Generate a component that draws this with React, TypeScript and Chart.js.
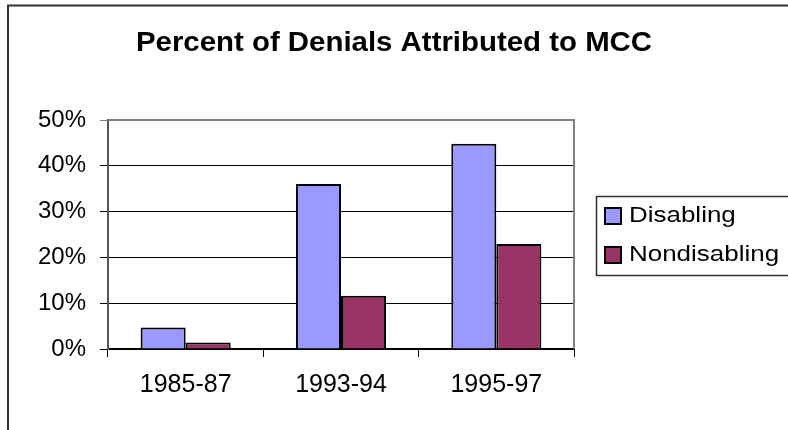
import React, { useEffect, useRef } from "react";
import { Chart, registerables } from "chart.js";

Chart.register(...registerables);

// Chart data
const title = "Percent of Denials Attributed to MCC";
const categories = ["1985-87", "1993-94", "1995-97"];
const seriesNames = ["Disabling", "Nondisabling"];
const disabling = [4.7, 36, 44.8];
const nondisabling = [1.4, 11.6, 22.9];
const yTicksMax = 50;
const yTickStep = 10;

const FONT = '"Liberation Sans", Arial, Helvetica, sans-serif';
const COLORS = ["#9999FF", "#993366"];

// Frame, title and legend drawn around the plot
const decorations = {
  id: "decorations",
  afterDraw(chart: any) {
    const ctx = chart.ctx as CanvasRenderingContext2D;
    const area = chart.chartArea;
    ctx.save();

    // outer frame (left and top edges visible)
    ctx.strokeStyle = "#333333";
    ctx.lineWidth = 2;
    ctx.beginPath();
    ctx.moveTo(8, 440);
    ctx.lineTo(8, 5.5);
    ctx.lineTo(800, 5.5);
    ctx.stroke();

    // plot-area top and right border
    ctx.strokeStyle = "#808080";
    ctx.lineWidth = 2;
    ctx.beginPath();
    ctx.moveTo(area.left, area.top);
    ctx.lineTo(area.right, area.top);
    ctx.lineTo(area.right, area.bottom);
    ctx.stroke();

    // title
    ctx.fillStyle = "#000";
    ctx.font = `bold 28px ${FONT}`;
    ctx.textAlign = "center";
    ctx.textBaseline = "alphabetic";
    ctx.save();
    ctx.translate(394, 51);
    ctx.scale(1.05, 1);
    ctx.fillText(title, 0, 0);
    ctx.restore();

    // legend box
    const lx = 596.5;
    const ly = 196.5;
    ctx.strokeStyle = "#333333";
    ctx.lineWidth = 1.5;
    ctx.strokeRect(lx, ly, 220, 79);

    ctx.textAlign = "left";
    ctx.font = `22px ${FONT}`;
    seriesNames.forEach((name, i) => {
      const baseline = 222 + i * 39;
      const sx = 605;
      const sy = baseline - 14;
      ctx.fillStyle = COLORS[i];
      ctx.fillRect(sx, sy, 16, 16);
      ctx.strokeStyle = "#000";
      ctx.lineWidth = 2;
      ctx.strokeRect(sx, sy, 16, 16);
      ctx.fillStyle = "#000";
      ctx.save();
      ctx.translate(629, baseline);
      ctx.scale(1.18, 1);
      ctx.fillText(name, 0, 0);
      ctx.restore();
    });

    ctx.restore();
  },
};

export default function App() {
  const ref = useRef<HTMLCanvasElement | null>(null);

  useEffect(() => {
    if (!ref.current) return;
    const chart = new Chart(ref.current, {
      type: "bar",
      data: {
        labels: categories,
        datasets: [
          {
            label: seriesNames[0],
            data: disabling,
            backgroundColor: COLORS[0],
            borderColor: "#000",
            borderWidth: 2,
          },
          {
            label: seriesNames[1],
            data: nondisabling,
            backgroundColor: COLORS[1],
            borderColor: "#000",
            borderWidth: 2,
          },
        ],
      },
      options: {
        responsive: false,
        animation: false,
        devicePixelRatio: 1,
        layout: { padding: { top: 120, right: 214, left: 0, bottom: 0 } },
        datasets: {
          bar: { categoryPercentage: 0.58, barPercentage: 1 },
        },
        plugins: {
          legend: { display: false },
          title: { display: false },
          tooltip: { enabled: false },
        },
        scales: {
          x: {
            afterFit(scale: any) {
              scale.height = 81;
            },
            grid: {
              display: true,
              drawOnChartArea: false,
              drawTicks: true,
              tickLength: 8,
              color: "#000",
              lineWidth: 1,
              offset: true,
            },
            border: { display: true, color: "#000", width: 2 },
            ticks: {
              color: "#000",
              padding: 13,
              font: { family: FONT, size: 25 },
            },
          },
          y: {
            min: 0,
            max: yTicksMax,
            afterFit(scale: any) {
              scale.width = 108;
            },
            grid: {
              color: (c: any) => (c.tick && c.tick.value === yTicksMax ? "#808080" : "#000"),
              lineWidth: 1,
              tickLength: 8,
              drawTicks: true,
            },
            border: { display: true, color: "#555", width: 2 },
            ticks: {
              stepSize: yTickStep,
              color: "#000",
              padding: 14,
              font: { family: FONT, size: 24 },
              callback: (v: any) => `${v}%`,
            },
          },
        },
      },
      plugins: [decorations],
    });
    return () => chart.destroy();
  }, []);

  return (
    <div style={{ position: "fixed", left: 0, top: 0, width: 788, height: 430, background: "#fff" }}>
      <canvas ref={ref} width={788} height={430} style={{ width: 788, height: 430, display: "block" }} />
    </div>
  );
}
